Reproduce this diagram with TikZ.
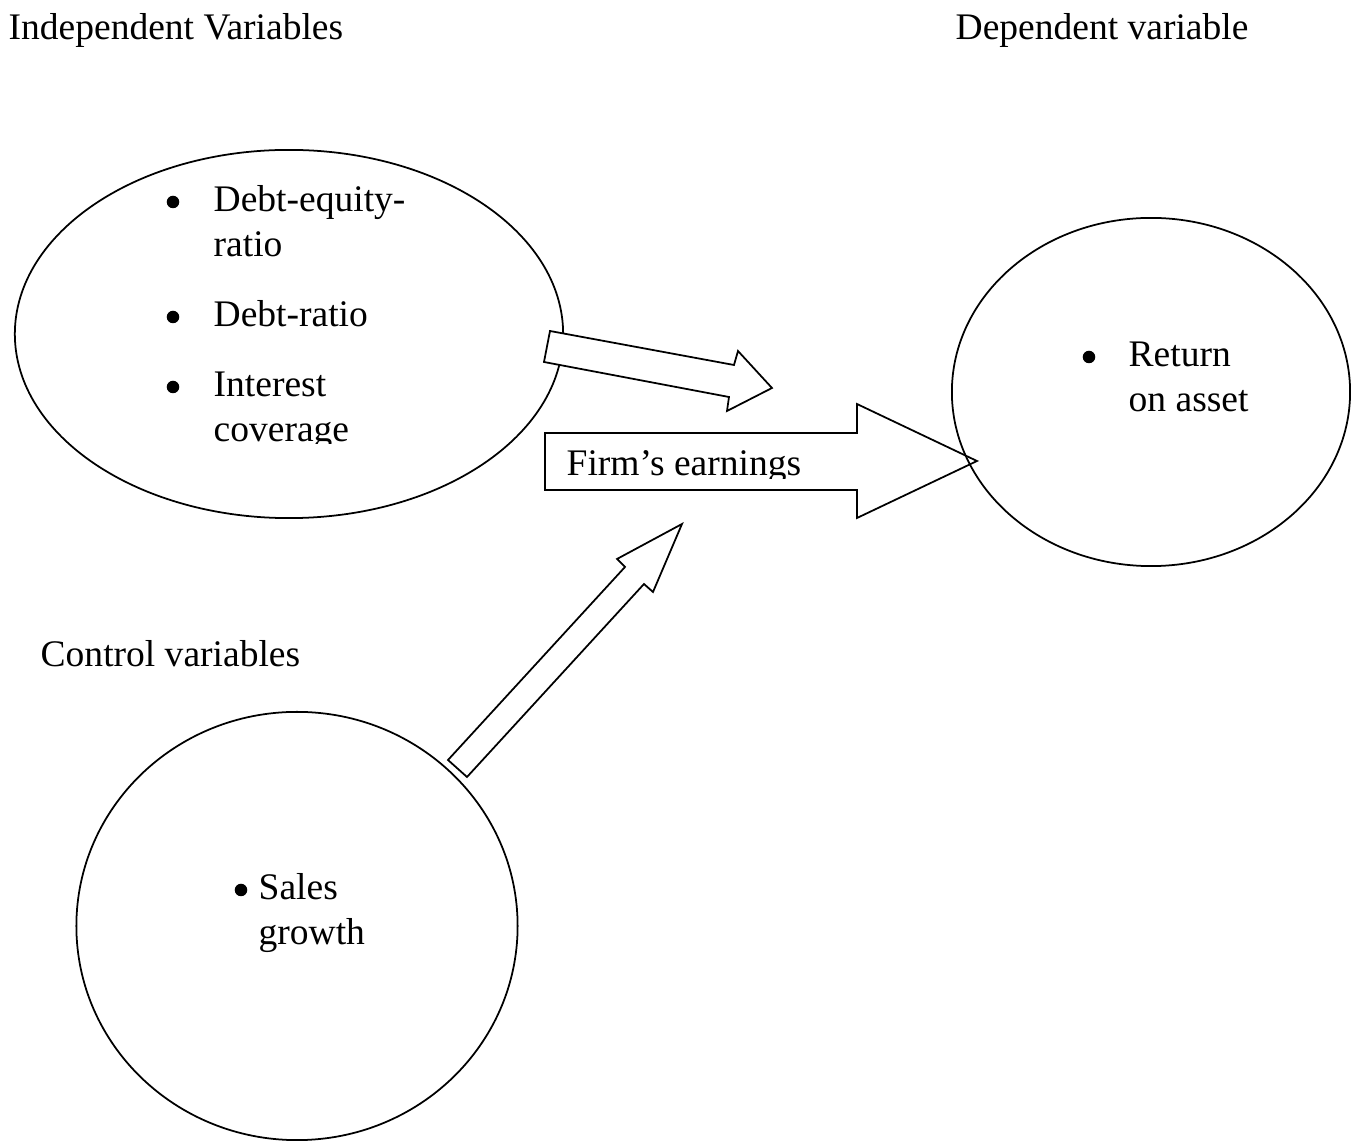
\documentclass[tikz,border=0pt]{standalone}
\usepackage{fontspec}
\setmainfont{Liberation Serif}
\usetikzlibrary{shapes.geometric}
\tikzset{
  txt/.style={anchor=base west,inner sep=0pt,font=\fontsize{10.67}{12.8}\selectfont},
  dot/.style={circle,fill,inner sep=0pt,minimum size=0.125cm},
  oval/.style={draw,ellipse,inner sep=0pt,line width=0.5pt},
  blockarrow/.style={draw,fill=white,line width=0.5pt,line join=miter}
}
\begin{document}
\begin{tikzpicture}[x=0.01cm,y=-0.01cm]
\useasboundingbox (0,0) rectangle (1353,1143);
% headings
\node[txt] (indhead) at (8,40) {Independent Variables};
\node[txt] (dephead) at (955,40) {Dependent variable};
\node[txt] (ctrlhead) at (40,667) {Control variables};
% independent variables
\node[oval,minimum width=5.48cm,minimum height=3.68cm] (indep) at (289,334) {};
\node[dot] (b1) at (173,202) {};
\node[txt] (der) at (213,212) {Debt-equity-};
\node[txt] (der2) at (213,257) {ratio};
\node[dot] (b2) at (173,317) {};
\node[txt] (dr) at (213,327) {Debt-ratio};
\node[dot] (b3) at (173,387) {};
\node[txt] (ic) at (213,397) {Interest};
\begin{scope}
\clip (200,400) rectangle (400,444);
\node[txt] (ic2) at (213,442) {coverage};
\end{scope}
% arrows
\draw[blockarrow] (550,331) -- (734,365) -- (738,351) -- (772,388) -- (727,411) -- (729,397) -- (544,362) -- cycle;
\draw[blockarrow] (545,433) -- (857,433) -- (857,404) -- (977,461) -- (857,518) -- (857,490) -- (545,490) -- cycle;
\begin{scope}
\clip (550,435) rectangle (850,479);
\node[txt] (earn) at (566,476) {Firm’s earnings};
\end{scope}
\draw[blockarrow] (448,760) -- (625,567) -- (617,559) -- (682,524) -- (653,592) -- (644,584) -- (467,777) -- cycle;
% dependent variable
\node[oval,minimum width=3.98cm,minimum height=3.48cm] (dep) at (1151,392) {};
\node[dot] (b4) at (1089,357) {};
\node[txt] (roa) at (1128,367) {Return};
\node[txt] (roa2) at (1128,412) {on asset};
% control variables
\node[oval,minimum width=4.41cm,minimum height=4.28cm] (ctrl) at (297,926) {};
\node[dot] (b5) at (241,890) {};
\node[txt] (sg) at (258,900) {Sales};
\node[txt] (sg2) at (258,945) {growth};
\end{tikzpicture}
\end{document}
